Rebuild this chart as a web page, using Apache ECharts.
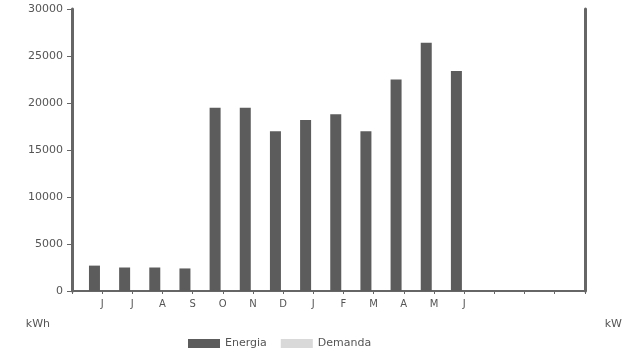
<!DOCTYPE html>
<html>
<head>
<meta charset="utf-8">
<script src="https://cdn.jsdelivr.net/npm/echarts@6/dist/echarts.min.js"></script>
<style>html,body{margin:0;padding:0;background:#fff}#c{width:625px;height:358px}</style>
</head>
<body>
<div id="c"></div>
<script>
var categories = ['', 'J', 'J', 'A', 'S', 'O', 'N', 'D', 'J', 'F', 'M', 'A', 'M', 'J', '', '', '', ''];
var energia = [null, 2700, 2500, 2500, 2400, 19500, 19500, 17000, 18200, 18800, 17000, 22500, 26400, 23400, null, null, null, null];
var demanda = [null, null, null, null, null, null, null, null, null, null, null, null, null, null, null, null, null, null];
var yTicks = [0, 5000, 10000, 15000, 20000, 25000, 30000];

var chart = echarts.init(document.getElementById('c'), null, {renderer: 'canvas'});
chart.setOption({
  animation: false,
  textStyle: {fontFamily: 'DejaVu Sans'},
  grid: {left: 72, right: 35, top: 9, bottom: 67},
  legend: {
    bottom: 4, left: 183,
    icon: 'rect',
    itemWidth: 32, itemHeight: 9, itemGap: 14,
    textStyle: {fontSize: 11, color: '#555'},
    data: ['Energia', 'Demanda']
  },
  xAxis: {
    type: 'category',
    data: categories,
    boundaryGap: false,
    axisLine: {lineStyle: {color: '#666', width: 2}},
    axisTick: {length: 3, lineStyle: {color: '#666'}},
    axisLabel: {fontSize: 10, color: '#555', margin: 8, interval: 0}
  },
  yAxis: [{
    type: 'value',
    min: yTicks[0], max: yTicks[yTicks.length - 1], interval: 5000,
    name: 'kWh', nameLocation: 'start', nameGap: 28,
    nameTextStyle: {fontSize: 11, color: '#555', align: 'right', padding: [0, 22, 0, 0]},
    axisLine: {show: true, lineStyle: {color: '#666', width: 3}},
    axisTick: {show: true, length: 5, lineStyle: {color: '#666'}},
    axisLabel: {fontSize: 11, color: '#555', margin: 9, formatter: function (v) { return String(v); }},
    splitLine: {show: false}
  }, {
    type: 'value',
    position: 'right',
    min: 0, max: 100,
    name: 'kW', nameLocation: 'start', nameGap: 28,
    nameTextStyle: {fontSize: 11, color: '#555', align: 'left', padding: [0, 0, 0, 20]},
    axisLine: {show: true, lineStyle: {color: '#666', width: 3}},
    axisTick: {show: false},
    axisLabel: {show: false},
    splitLine: {show: false}
  }],
  series: [{
    name: 'Energia', type: 'bar', yAxisIndex: 0,
    data: energia, barWidth: 11, barGap: '40%',
    itemStyle: {color: '#5c5c5c'}
  }, {
    name: 'Demanda', type: 'bar', yAxisIndex: 1,
    data: demanda, barWidth: 11,
    itemStyle: {color: '#d9d9d9'}
  }]
});
</script>
</body>
</html>
